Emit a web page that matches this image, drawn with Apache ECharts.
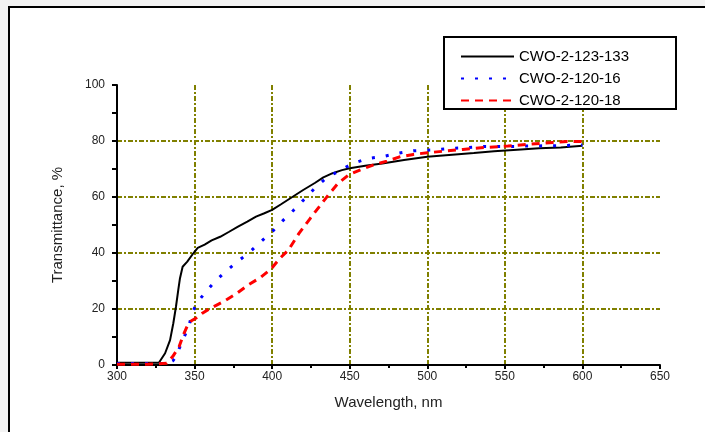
<!DOCTYPE html>
<html>
<head>
<meta charset="utf-8">
<script src="https://cdn.jsdelivr.net/npm/echarts@6/dist/echarts.min.js"></script>
<style>
  html, body { margin: 0; padding: 0; background: #f3f3f3; }
  #chart { width: 705px; height: 432px; }
</style>
</head>
<body>
<div id="chart"></div>
<script>
// wavelength (nm) / transmittance (%)
let wl133 = [300, 315, 327, 327.7, 331, 334.2, 336.3, 338, 339.5, 340.6, 342.3, 345.3, 349.2, 352, 356.5, 361, 366.5, 372, 378, 384, 389.6, 395, 400, 406, 413, 420, 427.5, 433, 439, 445, 450, 460, 471, 485, 500, 514, 530, 543, 558, 572, 586, 600];
let t133 = [0.8, 0.8, 0.8, 1.2, 4.2, 8.9, 14.9, 20.8, 26.8, 31, 35.1, 36.9, 39.9, 41.8, 43, 44.5, 45.8, 47.5, 49.4, 51.2, 53, 54.2, 55.4, 57.5, 60, 62.5, 65, 67, 68.5, 69.6, 70.3, 71.2, 72, 73.2, 74.4, 75, 75.7, 76.3, 76.9, 77.4, 77.7, 78.3];

let wl16 = [300, 320, 333, 336, 337.4, 340.2, 343.2, 346.6, 348.1, 351.3, 356.7, 362.7, 369.8, 377.8, 385.3, 392.7, 400, 406.6, 413.5, 420.2, 427.4, 434.7, 443.4, 452, 462, 471, 481, 491, 503, 514, 525, 535, 550, 565, 580, 590, 600];
let t16 = [0.5, 0.5, 0.5, 1.5, 2.5, 6, 9.9, 14.3, 18.1, 22, 25.8, 29.6, 33.3, 37, 40.2, 44, 47.6, 51.4, 55.1, 58.9, 63.1, 66.7, 69.4, 72, 73.8, 74.4, 75.6, 76.5, 76.8, 77.3, 77.6, 78, 78, 78.2, 78.3, 78.4, 78.6];

let wl18 = [300, 320, 332, 335.9, 340, 342.7, 345.3, 348, 351.3, 355, 360, 368.5, 377.2, 384.6, 392.6, 399.3, 405, 410.4, 417.3, 424.6, 430.3, 436.2, 442.5, 449.3, 456.5, 465, 474, 482.6, 491, 500, 511.5, 523, 537.6, 552, 566.6, 581, 590, 600];
let t18 = [0.3, 0.3, 0.6, 3, 6.5, 10.7, 13.9, 15.8, 16.9, 18.5, 20.2, 22.6, 25.6, 28.6, 31.3, 34.3, 38.1, 41, 47, 52.4, 56.5, 60.7, 64.9, 67.9, 69.6, 71.4, 72.8, 74.4, 75.2, 75.8, 76.4, 77, 77.7, 78.2, 78.9, 79.5, 79.8, 79.8];

let seriesNames = ["CWO-2-123-133", "CWO-2-120-16", "CWO-2-120-18"];

function pairs(xs, ys) {
    return xs.map((x, i) => [x, ys[i]]);
}

let dom = document.getElementById("chart");
let myChart = echarts.init(dom, null, { renderer: "canvas" });

let gridLine = {
    show: true,
    showMaxLine: false,
    lineStyle: { color: "#808000", width: 2, type: [5, 2, 2, 2] },
};
let tickFont = { fontFamily: "Liberation Sans, Arial", fontSize: 12, color: "#222" };

let option = {
    backgroundColor: "transparent",
    graphic: [
        {
            type: "rect", z: -10,
            shape: { x: 9, y: 7, width: 720, height: 460 },
            style: { fill: "#fff", stroke: "#000", lineWidth: 2 },
        },
        {
            type: "rect", z: 50,
            shape: { x: 444, y: 37, width: 232, height: 72 },
            style: { fill: "#fff", stroke: "#000", lineWidth: 2 },
        },
    ],
    legend: {
        z: 60,
        orient: "vertical",
        left: 455,
        top: 44,
        itemWidth: 53,
        itemHeight: 14,
        itemGap: 7,
        data: seriesNames,
        itemStyle: { opacity: 0 },
        textStyle: { fontFamily: "Liberation Sans, Arial", fontSize: 15, color: "#000" },
    },
    grid: { left: 117, right: 45, top: 85, bottom: 67 },
    xAxis: {
        type: "value",
        min: 300, max: 650, interval: 50,
        name: "Wavelength, nm",
        nameLocation: "middle",
        nameGap: 30,
        nameTextStyle: { fontFamily: "Liberation Sans, Arial", fontSize: 15, color: "#222" },
        axisLine: { lineStyle: { color: "#000", width: 2 } },
        axisTick: { inside: false, length: 4, lineStyle: { color: "#000", width: 2 } },
        minorTick: { show: true, splitNumber: 2, length: 3, lineStyle: { color: "#000", width: 2 } },
        axisLabel: Object.assign({ margin: 6 }, tickFont),
        splitLine: gridLine,
    },
    yAxis: {
        type: "value",
        min: 0, max: 100, interval: 20,
        name: "Transmittance, %",
        nameLocation: "middle",
        nameGap: 52,
        nameTextStyle: { fontFamily: "Liberation Sans, Arial", fontSize: 15, color: "#222" },
        axisLine: { show: true, lineStyle: { color: "#000", width: 2 } },
        axisTick: { show: true, inside: false, length: 5, lineStyle: { color: "#000", width: 2 } },
        minorTick: { show: true, splitNumber: 2, length: 5, lineStyle: { color: "#000", width: 2 } },
        axisLabel: Object.assign({ margin: 12 }, tickFont),
        splitLine: gridLine,
    },
    series: [
        {
            name: seriesNames[0],
            type: "line",
            symbol: "none",
            z: 3,
            color: "#000",
            lineStyle: { color: "#000", width: 2, type: "solid" },
            data: pairs(wl133, t133),
        },
        {
            name: seriesNames[1],
            type: "line",
            symbol: "none",
            z: 4,
            color: "#0000ff",
            lineStyle: { color: "#0000ff", width: 3, type: [3, 11] },
            data: pairs(wl16, t16),
        },
        {
            name: seriesNames[2],
            type: "line",
            symbol: "none",
            z: 5,
            color: "#ff0000",
            lineStyle: { color: "#ff0000", width: 3, type: [8, 6] },
            data: pairs(wl18, t18),
        },
    ],
};

myChart.setOption(option);
window.addEventListener("resize", myChart.resize);
</script>
</body>
</html>
